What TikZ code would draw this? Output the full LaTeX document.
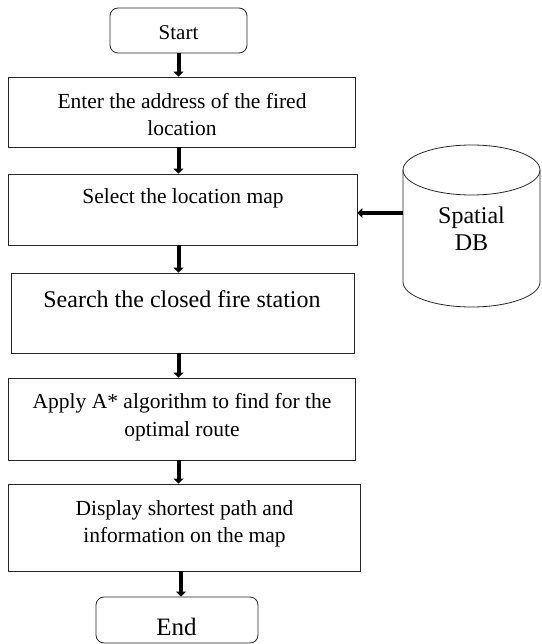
\documentclass[tikz,border=0pt]{standalone}
\usepackage{fontspec}
\setmainfont{Liberation Serif}
\usetikzlibrary{arrows.meta}
\tikzset{
  ln/.style={draw=black!85, line width=0.8pt},
  procbox/.style={ln, rectangle, inner sep=0pt},
  termbox/.style={ln, rectangle, rounded corners=8pt, inner sep=0pt},
  txt/.style={inner sep=0pt, align=center},
  arr/.style={line width=4pt, -{Triangle[width=10pt,length=5pt]}},
  nfont/.style={font=\fontsize{21.5}{27.5}\selectfont},
}
\begin{document}
\begin{tikzpicture}[x=1pt,y=-1pt]
\useasboundingbox (0,0) rectangle (541,644);
% boxes
\node[termbox, minimum width=137pt, minimum height=45pt] (start) at (178.5,30.5) {};
\node[procbox, minimum width=347pt, minimum height=70pt] (b1) at (181.5,112) {};
\node[procbox, minimum width=349pt, minimum height=71pt] (b2) at (182.5,209.5) {};
\node[procbox, minimum width=343pt, minimum height=80pt] (b3) at (182.5,313) {};
\node[procbox, minimum width=347pt, minimum height=82pt] (b4) at (181.5,419) {};
\node[procbox, minimum width=352pt, minimum height=87pt] (b5) at (184,527.5) {};
\node[termbox, minimum width=162pt, minimum height=46pt] (end) at (177,620) {};
% texts
\node[txt, anchor=base, font=\fontsize{21}{26}\selectfont] (t0) at (178.5,40) {Start};
\node[txt, nfont, anchor=north] (t1) at (182,93) {Enter the address of the fired\\location};
\node[txt, nfont, anchor=base] (t2) at (183,204) {Select the location map};
\node[txt, anchor=base, font=\fontsize{24}{29}\selectfont] (t3) at (182,307) {Search the closed fire station};
\node[txt, nfont, anchor=north] (t4) at (182,393.3) {Apply A* algorithm to find for the\\optimal route};
\node[txt, nfont, anchor=north] (t5) at (184.5,500.3) {Display shortest path and\\information on the map};
\node[txt, anchor=base, font=\fontsize{25}{30}\selectfont] (t6) at (176.5,635) {End};
% database cylinder
\draw[ln] (403,170) -- (403,282) arc[start angle=180, end angle=0, x radius=68.5, y radius=25] -- (540,170);
\draw[ln] (471.5,170) ellipse[x radius=68.5, y radius=25];
\node[txt, anchor=north, font=\fontsize{24}{27}\selectfont] (db) at (471.5,206.6) {Spatial\\DB};
\coordinate (dbw) at (403,213);
% arrows
\draw[arr] (start.south) -- (start.south |- b1.north);
\draw[arr] (b1.south -| start.south) -- (b2.north -| start.south);
\draw[arr] (b2.south -| start.south) -- (b3.north -| start.south);
\draw[arr] (b3.south -| start.south) -- (b4.north -| start.south);
\draw[arr] (b4.south -| start.south) -- (b5.north -| start.south);
\draw[arr] ([xshift=2.5pt]b5.south -| start.south) -- ([xshift=2.5pt]end.north -| start.south);
\draw[arr] (dbw) -- (dbw -| b2.east);
\end{tikzpicture}
\end{document}
